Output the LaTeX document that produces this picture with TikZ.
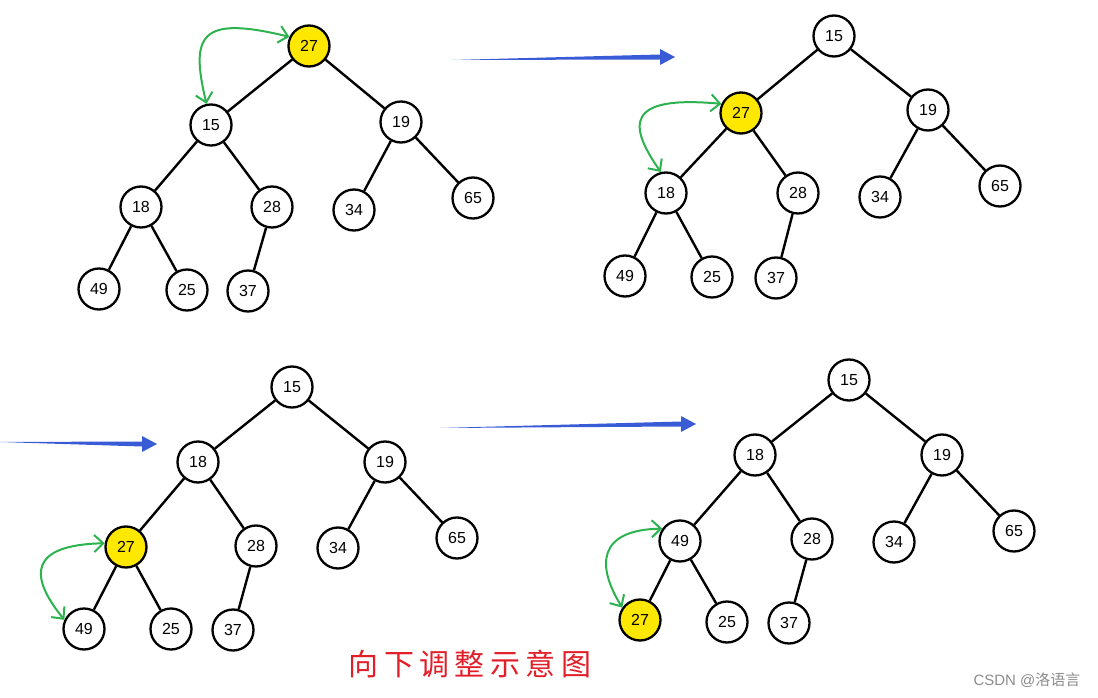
\documentclass[tikz,border=0pt]{standalone}
\usepackage{fontspec}
\setmainfont{Liberation Sans}
\newfontfamily\cjk{Noto Sans CJK SC}
\newfontfamily\cjktitle[LetterSpace=18]{Noto Sans CJK SC}
\usetikzlibrary{arrows.meta, calc}
\definecolor{heapblue}{RGB}{58,91,214}
\definecolor{heapgreen}{RGB}{44,178,78}
\definecolor{heapyellow}{RGB}{255,232,0}
\definecolor{heapred}{RGB}{226,30,40}
\newcommand\bluearrow[2]{%
  \fill[heapblue] (#1) -- ($(#2)+(-15,-2.5)$) -- ($(#2)+(-15,-8)$) -- (#2)
    -- ($(#2)+(-15,8)$) -- ($(#2)+(-15,2.5)$) -- cycle;}
\begin{document}
\begin{tikzpicture}[
      x=1pt, y=-1pt,
      key/.style={draw, circle, line width=2.3pt, minimum size=41pt, inner sep=0pt, fill=white, font=\fontsize{16}{19}\selectfont},
      hot/.style={key, fill=heapyellow},
      edge/.style={line width=2.4pt},
      swap/.style={heapgreen, line width=2pt, {Straight Barb[length=9pt,width=17pt]}-{Straight Barb[length=9pt,width=17pt]}}
    ]
    \useasboundingbox (0,0) rectangle (1098,698);

    \node[hot] (ta27) at (309,46) {27};
    \node[key] (ta15) at (211,125) {15};
    \node[key] (ta19) at (401,122) {19};
    \node[key] (ta18) at (141,207) {18};
    \node[key] (ta28) at (272,207) {28};
    \node[key] (ta34) at (354,210) {34};
    \node[key] (ta65) at (473,198) {65};
    \node[key] (ta49) at (99,289) {49};
    \node[key] (ta25) at (187,290) {25};
    \node[key] (ta37) at (248,291) {37};

    \node[key] (tb15) at (834,36) {15};
    \node[hot] (tb27) at (741,113) {27};
    \node[key] (tb19) at (928,110) {19};
    \node[key] (tb18) at (666,193) {18};
    \node[key] (tb28) at (798,193) {28};
    \node[key] (tb34) at (880,197) {34};
    \node[key] (tb65) at (1000,186) {65};
    \node[key] (tb49) at (625,276) {49};
    \node[key] (tb25) at (712,277) {25};
    \node[key] (tb37) at (776,278) {37};

    \node[key] (tc15) at (292,387) {15};
    \node[key] (tc18) at (198,462) {18};
    \node[key] (tc19) at (385,462) {19};
    \node[hot] (tc27) at (126,547) {27};
    \node[key] (tc28) at (256,546) {28};
    \node[key] (tc34) at (338,548) {34};
    \node[key] (tc65) at (457,538) {65};
    \node[key] (tc49) at (84,629) {49};
    \node[key] (tc25) at (171,629) {25};
    \node[key] (tc37) at (233,630) {37};

    \node[key] (td15) at (849,380) {15};
    \node[key] (td18) at (755,455) {18};
    \node[key] (td19) at (942,455) {19};
    \node[key] (td49) at (680,541) {49};
    \node[key] (td28) at (812,539) {28};
    \node[key] (td34) at (894,542) {34};
    \node[key] (td65) at (1014,531) {65};
    \node[hot] (td27) at (640,620) {27};
    \node[key] (td25) at (727,622) {25};
    \node[key] (td37) at (789,623) {37};

    \draw[edge] (ta27) -- (ta15) (ta27) -- (ta19) (ta15) -- (ta18) (ta15) -- (ta28)
      (ta19) -- (ta34) (ta19) -- (ta65) (ta18) -- (ta49) (ta18) -- (ta25) (ta28) -- (ta37);
    \draw[edge] (tb15) -- (tb27) (tb15) -- (tb19) (tb27) -- (tb18) (tb27) -- (tb28)
      (tb19) -- (tb34) (tb19) -- (tb65) (tb18) -- (tb49) (tb18) -- (tb25) (tb28) -- (tb37);
    \draw[edge] (tc15) -- (tc18) (tc15) -- (tc19) (tc18) -- (tc27) (tc18) -- (tc28)
      (tc19) -- (tc34) (tc19) -- (tc65) (tc27) -- (tc49) (tc27) -- (tc25) (tc28) -- (tc37);
    \draw[edge] (td15) -- (td18) (td15) -- (td19) (td18) -- (td49) (td18) -- (td28)
      (td19) -- (td34) (td19) -- (td65) (td49) -- (td27) (td49) -- (td25) (td28) -- (td37);

    \draw[swap] (ta15.102) .. controls (190,35) and (200,15) .. (ta27.155);
    \draw[swap] (tb18.104) .. controls (628,125) and (625,95) .. (tb27.155);
    \draw[swap] (tc49.155) .. controls (28,575) and (30,545) .. (tc27.170);
    \draw[swap] (td27.145) .. controls (596,565) and (598,530) .. (td49.145);

    \coordinate (s1) at (452,60);  \coordinate (e1) at (675,57);
    \coordinate (s2) at (0,442);   \coordinate (e2) at (157,444);
    \coordinate (s3) at (440,428); \coordinate (e3) at (696,424);
    \bluearrow{s1}{e1}
    \bluearrow{s2}{e2}
    \bluearrow{s3}{e3}

    \node[text=heapred, font=\cjktitle\fontsize{30}{34}\selectfont] (title) at (470,664) {向下调整示意图};
    \node[text=black!45, font=\fontsize{15}{18}\selectfont, anchor=east] (mark) at (1084,680) {CSDN @{\cjk 洛语言}};
  \end{tikzpicture}
\end{document}
